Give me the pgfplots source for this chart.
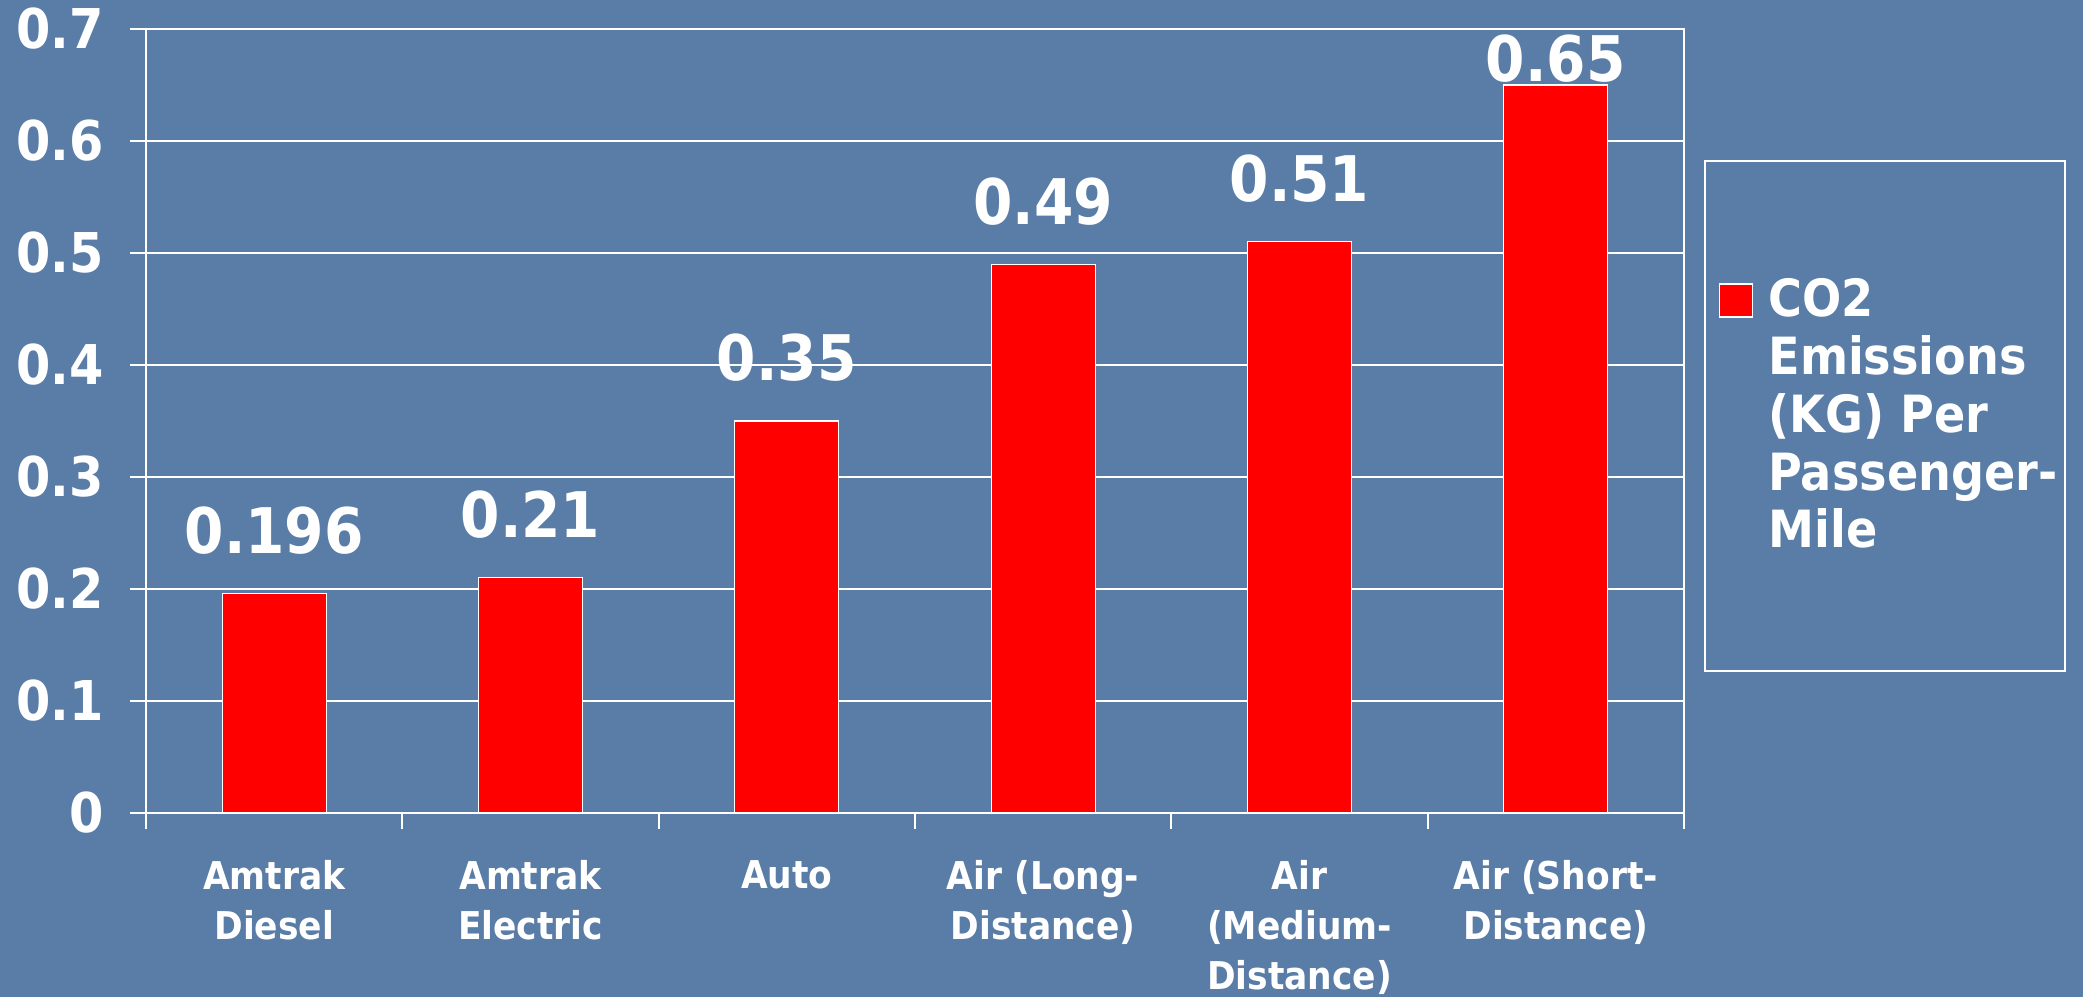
\documentclass[border=0pt]{standalone}
\usepackage{fontspec}
\setmainfont{DejaVu Sans Condensed}[BoldFont={DejaVu Sans Condensed Bold}]
\usepackage{pgfplots}
\pgfplotsset{compat=1.18}
\definecolor{bgblue}{RGB}{89,125,166}
\definecolor{barred}{RGB}{255,0,0}
\begin{document}
\begin{tikzpicture}
\fill[bgblue] (-14.6mm,-18.4mm) rectangle (193.7mm,81.3mm);
\begin{axis}[
  at={(0,0)}, anchor=south west,
  scale only axis, width=153.8mm, height=78.4mm,
  clip=false,
  ymin=0, ymax=0.7, xmin=-0.5, xmax=5.5,
  ytick={0,0.1,0.2,0.3,0.4,0.5,0.6,0.7},
  xtick={-0.5,0.5,1.5,2.5,3.5,4.5,5.5},
  x tick label as interval,
  xticklabels={Amtrak\\Diesel, Amtrak\\Electric, Auto, Air (Long-\\Distance), Air\\(Medium-\\Distance), Air (Short-\\Distance)},
  xtick pos=bottom, ytick pos=left,
  tick align=outside,
  major tick length=1.6mm,
  tick style={white, line width=0.6pt},
  axis line style={white, line width=0.6pt},
  ymajorgrids, grid style={white, line width=0.6pt},
  /pgf/number format/assume math mode=true,
  /pgf/number format/fixed,
  yticklabel style={font=\bfseries\fontsize{15.6}{18}\selectfont, text=white, xshift=-1.4mm},
  xticklabel style={font=\bfseries\fontsize{10.9}{14.2}\selectfont, text=white, align=center, anchor=north, yshift=-1.9mm},
  ybar, bar width=10.4mm,
  point meta=explicit symbolic,
  visualization depends on={rawy \as \yv},
  nodes near coords,
  nodes near coords style={font=\bfseries\fontsize{17.9}{20}\selectfont, text=white, anchor=base, inner sep=0pt,
     yshift={\yv>0.6 ? 0.3mm : 4mm}},
  legend image code/.code={\path (0mm,0mm) (5.5mm,0mm); \draw[#1] (1.4mm,9.9mm) rectangle (4.7mm,13.2mm);},
  legend style={at={(1.1307,0.5064)}, anchor=center, draw=white, line width=0.6pt, fill=none, text=white,
     font=\bfseries\fontsize{14.6}{16.44}\selectfont, inner xsep=0mm, inner ysep=11.05mm,
     cells={align=left}},
]
\addplot[fill=barred, draw=white, line width=0.3pt] coordinates {
  (0,0.196) [0.196]
  (1,0.21) [0.21]
  (2,0.35) [0.35]
  (3,0.49) [0.49]
  (4,0.51) [0.51]
  (5,0.65) [0.65]
};
\addlegendentry{CO2\\Emissions\\(KG) Per\\Passenger-\\Mile}
\end{axis}
\pgfresetboundingbox
\useasboundingbox (-14.6mm,-18.4mm) rectangle (193.7mm,81.3mm);
\end{tikzpicture}
\end{document}
